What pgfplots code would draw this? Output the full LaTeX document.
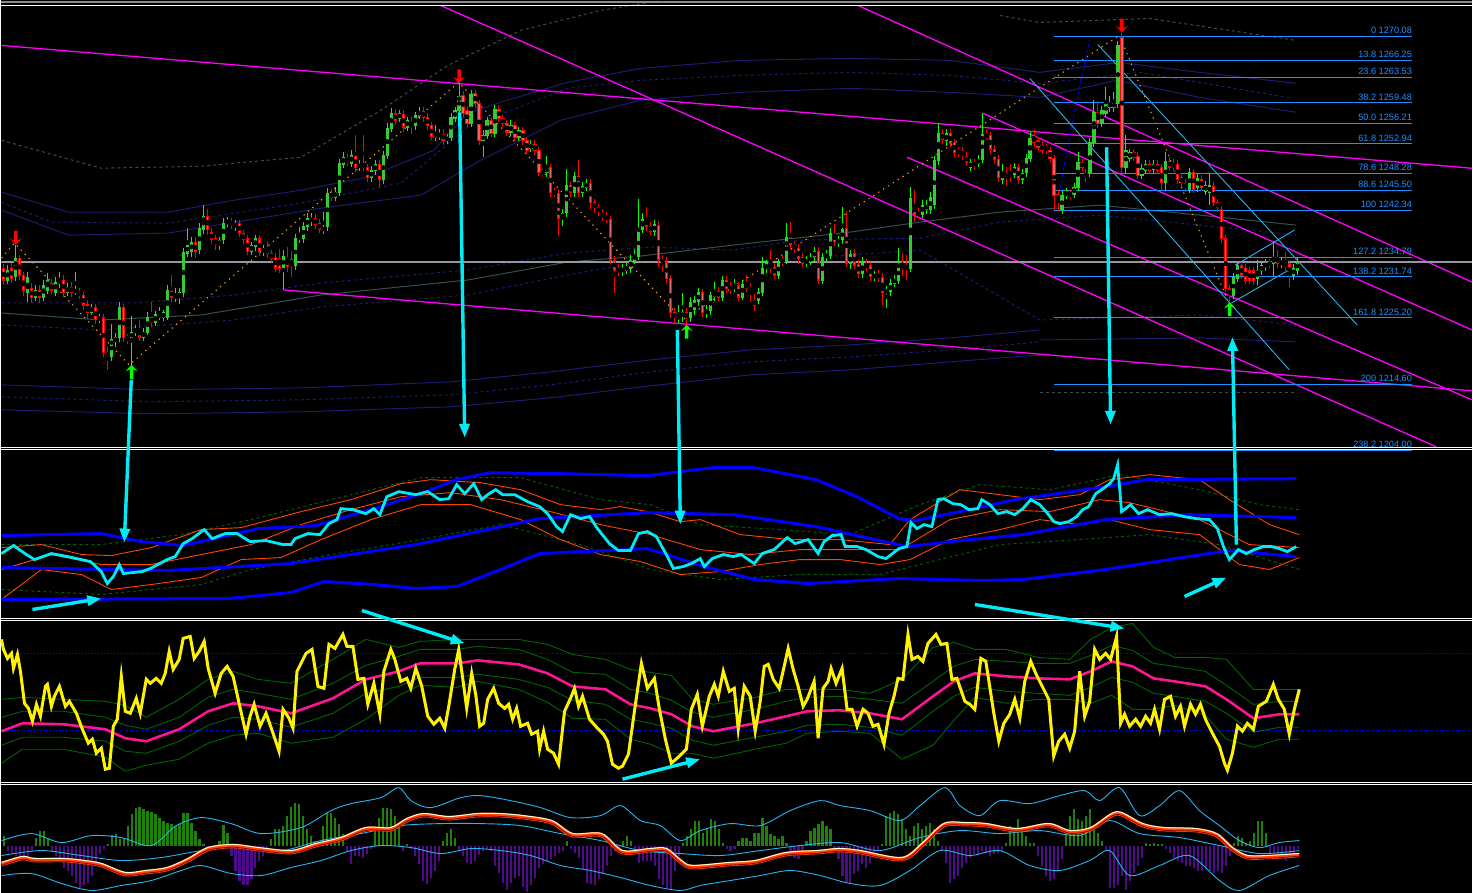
\documentclass[border=0pt]{standalone}
\usepackage{pgfplots}
\usepackage{pgfplotstable}
\pgfplotsset{compat=1.18}
\usepackage{fontspec}
\setmainfont{Liberation Sans}
\usetikzlibrary{arrows.meta}

\definecolor{fib}{RGB}{30,144,255}
\definecolor{bull}{RGB}{50,205,50}
\definecolor{bullw}{RGB}{0,255,0}
\definecolor{bearin}{RGB}{225,105,105}
\definecolor{navyA}{RGB}{28,28,112}
\definecolor{grayg}{RGB}{55,80,75}
\definecolor{zig}{RGB}{240,160,20}
\definecolor{sky}{RGB}{40,180,240}
\definecolor{cyanA}{RGB}{0,235,245}
\definecolor{oran}{RGB}{255,69,0}
\definecolor{dgreen}{RGB}{0,100,0}
\definecolor{pinkL}{RGB}{255,20,147}
\definecolor{hgreen}{RGB}{30,130,10}
\definecolor{hpurp}{RGB}{80,10,140}
\definecolor{pricegray}{RGB}{150,150,165}
\definecolor{mag}{RGB}{255,0,255}

\pgfdeclareplotmark{fdown}{%
 \pgfpathmoveto{\pgfqpoint{0pt}{0pt}}%
 \pgfpathlineto{\pgfqpoint{6pt}{6.5pt}}%
 \pgfpathlineto{\pgfqpoint{1.7pt}{4.5pt}}%
 \pgfpathlineto{\pgfqpoint{1.7pt}{14pt}}%
 \pgfpathlineto{\pgfqpoint{-1.7pt}{14pt}}%
 \pgfpathlineto{\pgfqpoint{-1.7pt}{4.5pt}}%
 \pgfpathlineto{\pgfqpoint{-6pt}{6.5pt}}%
 \pgfpathclose\pgfusepathqfill}
\pgfdeclareplotmark{fup}{%
 \pgfpathmoveto{\pgfqpoint{0pt}{0pt}}%
 \pgfpathlineto{\pgfqpoint{6pt}{-6.5pt}}%
 \pgfpathlineto{\pgfqpoint{1.7pt}{-4.5pt}}%
 \pgfpathlineto{\pgfqpoint{1.7pt}{-14pt}}%
 \pgfpathlineto{\pgfqpoint{-1.7pt}{-14pt}}%
 \pgfpathlineto{\pgfqpoint{-1.7pt}{-4.5pt}}%
 \pgfpathlineto{\pgfqpoint{-6pt}{-6.5pt}}%
 \pgfpathclose\pgfusepathqfill}

\pgfplotstableread{
k o c h l
0 1233.1 1231.2 1233.8 1230.4
1 1231.2 1232.8 1233.6 1230.6
2 1233.1 1231.5 1233.9 1230.8
3 1231.7 1234.7 1236.8 1231.0
4 1234.7 1232.0 1235.2 1231.3
5 1232.0 1229.6 1232.5 1228.6
6 1229.2 1231.7 1232.5 1227.7
7 1229.9 1228.4 1230.8 1227.6
8 1228.4 1229.6 1230.4 1227.8
9 1229.6 1228.4 1230.4 1227.6
10 1228.4 1230.4 1231.2 1227.9
11 1229.6 1231.2 1232.3 1229.0
12 1230.7 1229.6 1231.4 1229.0
13 1229.3 1230.9 1231.7 1228.7
14 1230.7 1231.2 1232.5 1230.0
15 1231.2 1229.2 1232.0 1228.5
16 1229.2 1230.1 1230.8 1228.7
17 1230.1 1229.2 1230.9 1228.5
18 1229.3 1229.6 1232.5 1228.9
19 1229.3 1228.8 1229.9 1228.2
20 1228.8 1227.2 1229.4 1226.5
21 1227.4 1226.1 1228.0 1225.0
22 1226.1 1226.8 1227.4 1225.7
23 1226.8 1224.9 1227.4 1224.2
24 1224.9 1225.3 1225.8 1224.4
25 1225.2 1219.7 1225.8 1218.9
26 1219.7 1219.0 1220.5 1216.9
27 1219.0 1221.7 1224.2 1218.3
28 1221.4 1222.0 1222.8 1220.6
29 1222.0 1226.8 1227.7 1221.4
30 1226.8 1222.0 1227.4 1221.3
31 1222.1 1221.7 1222.6 1221.0
32 1222.0 1222.8 1225.5 1217.7
33 1222.8 1223.4 1224.1 1222.3
34 1223.4 1222.1 1224.9 1221.5
35 1222.1 1222.9 1223.6 1221.5
36 1222.9 1225.3 1226.1 1222.5
37 1225.2 1224.4 1227.7 1223.8
38 1224.4 1225.7 1226.3 1223.9
39 1225.3 1225.7 1227.0 1224.9
40 1225.2 1226.0 1226.5 1224.7
41 1225.3 1229.6 1230.4 1224.9
42 1229.6 1228.4 1232.0 1227.7
43 1228.4 1228.8 1229.9 1227.7
44 1228.5 1229.2 1229.9 1227.4
45 1229.2 1235.7 1236.3 1228.5
46 1235.5 1236.8 1239.5 1234.9
47 1235.7 1237.3 1238.1 1234.9
48 1237.3 1235.7 1238.1 1234.7
49 1236.0 1239.5 1240.3 1235.4
50 1239.2 1241.4 1243.2 1238.6
51 1241.4 1239.2 1242.5 1238.4
52 1238.9 1237.6 1239.5 1236.9
53 1237.9 1236.8 1238.4 1236.0
54 1236.8 1237.6 1238.1 1236.0
55 1237.6 1240.3 1241.1 1237.0
56 1240.3 1240.6 1241.3 1239.7
57 1240.6 1240.0 1241.1 1239.4
58 1239.7 1240.3 1240.8 1239.0
59 1240.3 1238.7 1240.8 1238.1
60 1238.7 1237.6 1239.2 1237.0
61 1237.8 1235.8 1238.4 1235.2
62 1235.8 1236.8 1237.3 1235.2
63 1236.5 1237.9 1238.4 1235.8
64 1237.8 1235.7 1238.4 1235.0
65 1235.7 1236.2 1236.8 1235.1
66 1236.2 1235.4 1237.5 1234.7
67 1235.4 1234.7 1236.0 1234.1
68 1234.9 1233.1 1235.5 1232.5
69 1234.7 1233.1 1236.2 1232.3
70 1233.1 1235.0 1236.0 1229.6
71 1234.7 1233.3 1236.5 1232.5
72 1234.6 1233.5 1235.8 1231.7
73 1233.5 1237.9 1238.6 1232.8
74 1237.8 1238.1 1239.7 1237.2
75 1237.9 1239.7 1240.5 1237.2
76 1239.7 1241.1 1241.9 1239.0
77 1240.5 1241.1 1241.9 1239.8
78 1241.1 1240.0 1241.7 1239.4
79 1240.3 1239.3 1240.9 1238.7
80 1239.2 1239.5 1242.1 1238.6
81 1239.7 1245.1 1245.9 1239.0
82 1245.1 1244.4 1245.7 1243.8
83 1244.4 1245.2 1246.0 1243.8
84 1245.2 1249.8 1250.5 1244.6
85 1249.7 1250.8 1251.6 1249.1
86 1250.6 1250.0 1251.3 1249.4
87 1249.8 1251.1 1251.9 1249.2
88 1251.1 1249.1 1254.3 1248.4
89 1249.2 1249.7 1250.3 1248.6
90 1249.7 1249.2 1254.3 1248.6
91 1249.2 1247.5 1249.8 1246.8
92 1247.5 1248.7 1249.4 1246.8
93 1248.6 1249.7 1250.3 1248.0
94 1249.7 1247.2 1250.3 1246.0
95 1247.2 1251.1 1251.8 1246.5
96 1251.1 1255.4 1256.2 1250.5
97 1255.4 1257.8 1258.6 1254.8
98 1257.8 1256.7 1258.5 1256.0
99 1257.0 1257.8 1258.4 1256.4
100 1257.7 1255.6 1258.3 1254.9
101 1255.6 1256.7 1257.3 1255.0
102 1256.5 1255.9 1257.2 1254.6
103 1255.9 1257.5 1258.1 1255.2
104 1257.5 1258.1 1258.8 1256.9
105 1258.1 1257.2 1258.8 1256.5
106 1257.2 1255.9 1257.8 1255.2
107 1255.9 1254.1 1256.5 1253.5
108 1254.0 1254.5 1255.9 1253.4
109 1254.1 1254.5 1255.3 1253.5
110 1254.5 1253.5 1255.4 1252.8
111 1253.5 1254.0 1254.6 1252.9
112 1254.0 1257.2 1257.8 1253.4
113 1257.0 1258.3 1258.9 1256.4
114 1258.3 1260.5 1262.6 1257.7
115 1260.7 1257.8 1261.3 1257.2
116 1258.3 1256.2 1258.9 1255.6
117 1256.2 1260.8 1261.5 1255.6
118 1261.0 1259.4 1261.6 1258.6
119 1259.4 1253.5 1260.0 1252.8
120 1253.5 1254.3 1255.1 1250.9
121 1254.3 1256.7 1257.3 1253.7
122 1256.7 1254.6 1257.3 1254.0
123 1254.6 1258.5 1259.1 1254.0
124 1258.5 1257.0 1259.1 1256.4
125 1257.0 1256.2 1257.6 1255.6
126 1256.2 1254.8 1256.8 1254.2
127 1254.8 1255.9 1256.7 1254.2
128 1255.9 1254.0 1256.5 1253.4
129 1254.0 1255.1 1255.7 1253.4
130 1255.1 1253.4 1255.7 1252.8
131 1253.5 1251.9 1254.1 1251.3
132 1252.2 1252.9 1253.5 1251.6
133 1252.9 1251.8 1253.5 1251.2
134 1251.9 1248.4 1252.5 1247.8
135 1248.6 1248.3 1249.0 1247.6
136 1248.3 1249.2 1251.0 1247.6
137 1249.2 1245.1 1249.8 1244.4
138 1245.2 1245.1 1245.9 1244.4
139 1245.1 1241.1 1245.7 1238.2
140 1241.1 1241.9 1242.5 1239.8
141 1241.9 1246.3 1249.0 1241.3
142 1246.3 1245.1 1246.9 1244.5
143 1245.1 1247.8 1248.5 1244.5
144 1247.8 1245.1 1250.3 1244.4
145 1245.1 1246.2 1246.8 1244.5
146 1246.0 1246.7 1247.3 1245.4
147 1246.7 1243.6 1247.3 1242.5
148 1243.6 1242.7 1244.2 1242.0
149 1242.8 1242.1 1243.4 1241.4
150 1241.9 1241.3 1242.5 1240.6
151 1241.4 1240.9 1242.0 1240.3
152 1240.9 1234.4 1241.5 1233.8
153 1234.4 1232.8 1235.0 1229.2
154 1233.1 1232.5 1233.8 1231.8
155 1232.5 1233.1 1233.8 1231.9
156 1232.8 1233.3 1234.0 1232.2
157 1233.0 1234.4 1235.2 1232.4
158 1234.4 1235.2 1236.2 1233.8
159 1235.0 1239.3 1244.1 1234.4
160 1239.3 1240.9 1241.9 1238.7
161 1240.9 1239.7 1242.9 1239.0
162 1239.8 1239.0 1240.4 1238.4
163 1238.9 1240.1 1240.8 1238.2
164 1240.0 1234.4 1240.6 1233.3
165 1234.4 1234.1 1235.2 1232.5
166 1234.1 1231.5 1234.9 1230.7
167 1231.5 1226.0 1232.1 1225.2
168 1226.0 1225.2 1226.8 1224.2
169 1225.0 1225.5 1227.3 1224.3
170 1225.5 1226.0 1229.2 1224.6
171 1226.0 1225.2 1226.8 1224.1
172 1225.2 1227.7 1228.5 1224.6
173 1226.5 1228.0 1228.7 1225.7
174 1227.7 1229.3 1230.0 1227.0
175 1229.2 1226.0 1229.8 1225.3
176 1226.0 1226.3 1227.2 1225.2
177 1226.3 1228.7 1229.4 1225.7
178 1228.5 1229.3 1230.9 1227.9
179 1229.5 1228.5 1230.1 1227.8
180 1228.5 1231.2 1231.9 1227.9
181 1231.2 1229.9 1231.9 1229.2
182 1230.1 1229.8 1230.9 1229.0
183 1229.9 1230.3 1231.4 1229.3
184 1230.3 1228.5 1230.9 1227.9
185 1228.5 1230.6 1231.2 1228.0
186 1230.6 1229.9 1232.0 1229.3
187 1229.9 1229.8 1230.7 1227.7
188 1228.0 1227.2 1229.0 1226.3
189 1228.0 1229.3 1230.0 1227.4
190 1229.3 1233.1 1234.9 1228.7
191 1233.0 1233.8 1234.4 1232.3
192 1233.8 1233.0 1236.0 1232.3
193 1233.3 1232.0 1234.0 1231.4
194 1232.0 1233.9 1234.6 1231.4
195 1234.4 1234.1 1235.0 1233.5
196 1234.4 1238.1 1240.3 1233.8
197 1238.1 1236.8 1240.5 1236.2
198 1236.9 1236.2 1237.5 1235.5
199 1236.3 1234.7 1236.9 1233.8
200 1234.9 1233.9 1235.5 1233.3
201 1233.9 1234.4 1235.0 1233.3
202 1234.2 1234.9 1235.5 1233.6
203 1234.9 1235.8 1236.5 1234.3
204 1235.8 1231.2 1236.5 1230.6
205 1231.2 1234.9 1235.5 1230.6
206 1234.9 1235.2 1236.0 1234.3
207 1235.2 1238.7 1239.5 1234.6
208 1238.7 1237.3 1240.1 1236.6
209 1237.1 1237.6 1238.3 1236.5
210 1237.6 1239.3 1242.9 1237.0
211 1239.5 1233.9 1242.2 1233.3
212 1233.8 1235.4 1236.0 1233.0
213 1235.5 1233.6 1236.2 1233.0
214 1233.8 1232.2 1234.4 1231.5
215 1232.2 1233.9 1234.9 1231.5
216 1233.9 1233.3 1234.6 1232.7
217 1233.5 1231.7 1234.1 1231.1
218 1231.7 1232.0 1232.6 1231.1
219 1232.2 1231.5 1232.8 1230.9
220 1231.7 1229.2 1232.3 1227.3
221 1229.2 1229.6 1230.3 1226.8
222 1229.3 1230.7 1231.4 1228.7
223 1230.7 1231.4 1232.0 1230.1
224 1231.2 1233.5 1236.4 1230.6
225 1233.5 1233.3 1235.5 1231.9
226 1233.5 1233.1 1235.2 1231.2
227 1233.1 1244.3 1246.0 1232.5
228 1243.2 1241.6 1245.6 1240.5
229 1241.9 1241.6 1242.7 1240.9
230 1241.7 1243.2 1244.0 1241.1
231 1242.4 1243.2 1244.0 1241.7
232 1242.4 1244.4 1245.2 1241.7
233 1243.2 1250.3 1251.0 1242.5
234 1250.3 1254.6 1256.2 1249.6
235 1254.6 1253.7 1255.4 1252.9
236 1253.5 1254.6 1255.3 1252.6
237 1254.6 1253.0 1255.3 1252.4
238 1253.2 1251.6 1253.8 1250.8
239 1251.9 1251.6 1252.5 1250.8
240 1251.9 1251.1 1252.5 1250.3
241 1251.0 1250.0 1251.6 1249.4
242 1249.2 1250.0 1250.6 1248.6
243 1250.0 1249.4 1250.6 1248.8
244 1249.8 1250.5 1251.1 1249.2
245 1250.5 1254.5 1257.8 1249.9
246 1254.5 1254.1 1255.1 1253.5
247 1254.3 1252.1 1254.9 1251.4
248 1252.1 1250.5 1252.7 1249.8
249 1250.5 1247.5 1251.1 1246.8
250 1247.3 1248.3 1249.8 1246.6
251 1248.3 1247.5 1249.2 1246.2
252 1248.3 1247.5 1249.7 1246.8
253 1248.1 1249.2 1249.9 1247.5
254 1249.2 1247.3 1249.8 1246.6
255 1247.3 1248.3 1249.0 1246.6
256 1248.3 1250.6 1251.3 1247.6
257 1250.6 1253.8 1254.8 1250.0
258 1254.0 1253.2 1255.1 1252.5
259 1253.5 1252.4 1254.1 1251.8
260 1252.7 1251.9 1253.4 1251.3
261 1252.4 1251.9 1253.0 1251.3
262 1251.9 1250.6 1252.5 1250.0
263 1250.6 1244.7 1251.2 1242.4
264 1244.9 1244.0 1245.6 1242.2
265 1242.4 1244.7 1245.4 1241.7
266 1244.7 1245.2 1245.9 1244.1
267 1245.1 1244.7 1245.7 1244.1
268 1244.9 1246.0 1246.7 1244.3
269 1246.0 1250.0 1251.6 1245.4
270 1250.0 1249.2 1250.6 1248.6
271 1248.3 1247.5 1248.9 1246.8
272 1248.3 1253.2 1253.9 1247.6
273 1253.2 1258.0 1259.9 1252.5
274 1258.0 1256.2 1259.7 1255.5
275 1256.2 1258.3 1259.0 1255.6
276 1257.8 1259.4 1262.0 1257.2
277 1258.8 1259.4 1260.5 1258.1
278 1258.8 1259.4 1261.3 1258.1
279 1259.4 1268.6 1269.4 1258.6
280 1269.9 1249.1 1270.7 1248.1
281 1249.1 1251.9 1254.3 1248.3
282 1250.6 1251.6 1252.2 1250.0
283 1251.6 1250.8 1252.2 1250.2
284 1251.0 1247.9 1251.6 1247.3
285 1247.9 1249.1 1249.7 1247.3
286 1248.7 1249.7 1250.3 1248.1
287 1249.7 1248.7 1250.3 1248.1
288 1248.9 1249.7 1250.3 1248.3
289 1249.7 1248.7 1250.3 1248.1
290 1249.2 1246.7 1249.8 1245.6
291 1246.7 1250.2 1251.6 1245.4
292 1250.2 1249.2 1250.8 1248.6
293 1249.8 1249.2 1250.5 1248.6
294 1249.7 1247.3 1250.3 1246.6
295 1247.6 1246.7 1248.3 1246.0
296 1246.7 1245.9 1247.3 1245.2
297 1245.7 1248.4 1249.1 1245.1
298 1248.4 1245.7 1249.0 1245.1
299 1245.9 1247.5 1248.1 1245.2
300 1247.3 1246.0 1248.0 1245.4
301 1245.4 1246.3 1247.0 1244.8
302 1245.2 1246.3 1248.1 1243.2
303 1246.2 1243.6 1246.8 1243.0
304 1243.6 1242.7 1244.2 1242.1
305 1242.5 1237.8 1243.1 1237.1
306 1237.8 1229.9 1238.4 1229.3
307 1229.9 1228.8 1230.5 1227.7
308 1228.8 1231.7 1232.3 1228.2
309 1231.5 1233.5 1234.1 1230.9
310 1233.5 1232.0 1234.1 1231.4
311 1233.1 1231.2 1233.8 1230.6
312 1232.7 1231.2 1233.3 1230.6
313 1232.7 1231.1 1233.3 1230.5
314 1231.4 1232.8 1234.4 1230.5
315 1232.7 1233.5 1234.1 1232.0
316 1233.3 1233.9 1234.6 1232.7
317 1233.9 1233.8 1234.6 1233.1
318 1233.8 1234.9 1237.3 1231.9
319 1234.9 1233.8 1236.0 1233.1
320 1233.8 1234.1 1234.9 1233.1
321 1234.1 1233.3 1235.7 1232.5
322 1233.8 1232.0 1234.4 1230.1
323 1231.9 1233.1 1233.8 1231.3
324 1232.8 1234.1 1234.9 1232.1
}\candles

\pgfplotstableread{
k v
0 10
1 -5
2 -7
3 -10
4 -12
5 -13
6 -10
7 -5
8 8
9 15
10 15
11 8
12 -5
13 -10
14 -13
15 -22
16 -25
17 -30
18 -37
19 -43
20 -40
21 -37
22 -30
23 -20
24 -8
25 -3
26 2
27 11
28 12
29 7
30 8
31 20
32 32
33 38
34 39
35 37
36 35
37 34
38 32
39 28
40 25
41 23
42 22
43 20
44 22
45 33
46 33
47 23
48 15
49 7
50 2
51 -3
52 -4
53 -3
54 5
55 21
56 13
57 -10
58 -25
59 -35
60 -40
61 -40
62 -33
63 -22
64 -15
65 -10
66 -7
67 7
68 17
69 17
70 20
71 30
72 39
73 43
74 42
75 30
76 17
77 10
78 5
79 3
80 20
81 33
82 33
83 28
84 22
85 12
86 -5
87 -18
88 -10
89 -10
90 -12
91 -8
92 -3
93 15
94 28
95 38
96 38
97 37
98 30
99 20
100 -5
101 2
102 -3
103 -10
104 -18
105 -35
106 -38
107 -32
108 -25
109 -15
110 5
111 13
112 17
113 8
114 -5
115 -10
116 -17
117 -18
118 -15
119 -9
120 -5
121 -3
122 -5
123 -20
124 -27
125 -37
126 -45
127 -37
128 -32
129 -30
130 -42
131 -47
132 -40
133 -32
134 -22
135 -18
136 -15
137 -13
138 -10
139 -7
140 -5
141 5
142 -3
143 -7
144 -12
145 -23
146 -37
147 -38
148 -40
149 -33
150 -28
151 -20
152 -10
153 -5
154 -3
155 5
156 10
157 5
158 -5
159 -17
160 -15
161 -15
162 -15
163 -20
164 -33
165 -40
166 -43
167 -45
168 -25
169 -10
170 3
171 10
172 17
173 25
174 25
175 13
176 17
177 27
178 25
179 17
180 3
181 -3
182 -5
183 -3
184 5
185 8
186 8
187 5
188 13
189 13
190 28
191 20
192 12
193 10
194 7
195 10
196 3
197 -10
198 -12
199 -13
200 -8
201 5
202 15
203 18
204 22
205 25
206 20
207 17
208 -3
209 -13
210 -30
211 -37
212 -38
213 -28
214 -25
215 -18
216 -22
217 -17
218 -10
219 -5
220 2
221 30
222 33
223 35
224 32
225 27
226 17
227 10
228 20
229 23
230 17
231 20
232 23
233 17
234 5
235 -5
236 -17
237 -37
238 -33
239 -30
240 -22
241 -17
242 -12
243 -8
244 -8
245 -5
246 -7
247 -10
248 -8
249 -7
250 -6
251 3
252 20
253 17
254 27
255 17
256 10
257 3
258 3
259 -10
260 -20
261 -30
262 -35
263 -33
264 -25
265 -13
266 13
267 30
268 37
269 27
270 25
271 30
272 37
273 20
274 13
275 5
276 -5
277 -43
278 -43
279 -40
280 -30
281 -45
282 -35
283 -27
284 -20
285 -12
286 3
287 2
288 3
289 2
290 2
291 -3
292 -7
293 -12
294 -15
295 -17
296 -20
297 -20
298 -22
299 -25
300 -25
301 -23
302 -25
303 -27
304 -25
305 -27
306 -20
307 -10
308 3
309 10
310 8
311 3
312 5
313 13
314 25
315 25
316 13
317 -7
318 -7
319 -8
320 -12
321 -15
322 -10
323 -7
324 -3
}\hist

\begin{document}
\begin{tikzpicture}[x=1pt,y=1pt]
\fill[black] (0,0) rectangle (1473,894);

% ================= background overlay (pixel coordinates) =================
\begin{axis}[at={(0,0)}, anchor=south west, scale only axis, width=1473pt, height=894pt,
  xmin=0, xmax=1473, ymin=0, ymax=894, y dir=reverse, hide axis, clip=false]
% navy envelope lines
\addplot[navyA, line width=1pt] coordinates {(0,192) (67,212) (167,212) (233,200) (300,190) (367,177) (433,150) (467,113) (500,102) (567,82) (640,68) (740,60) (850,58) (950,60) (1040,72) (1120,62) (1200,72) (1297,83)};
\addplot[navyA, line width=1pt, dashed] coordinates {(0,202) (50,222) (167,223) (300,203) (400,183) (467,127) (567,88) (640,80) (740,75) (850,72) (950,75) (1040,83) (1140,72) (1200,82) (1293,98)};
\addplot[navyA, line width=1pt] coordinates {(0,210) (67,235) (167,233) (320,208) (420,195) (480,160) (560,120) (640,100) (740,92) (850,88) (950,92) (1040,97) (1117,80) (1200,97) (1297,112)};
\addplot[navyA, line width=1pt, dashed] coordinates {(0,303) (133,303) (233,295) (320,283) (467,270) (567,253) (650,247) (733,250) (800,240) (920,238) (1000,222) (1100,215) (1200,225) (1297,235)};
\addplot[grayg, line width=1pt] coordinates {(0,313) (100,320) (200,315) (320,295) (467,280) (567,262) (640,256) (733,245) (850,232) (920,222) (1000,212) (1100,205) (1200,215) (1297,225)};
\addplot[navyA, line width=1pt, dashed] coordinates {(0,325) (100,330) (233,320) (320,307) (467,295) (567,275) (640,262) (740,262) (850,255) (920,250) (1040,320) (1200,315) (1297,325)};
\addplot[navyA, line width=1pt] coordinates {(1040,340) (1200,338) (1297,342)};
\addplot[navyA, line width=1pt] coordinates {(0,385) (150,390) (300,388) (450,382) (550,372) (650,360) (750,350) (850,345) (950,338) (1040,330)};
\addplot[navyA, line width=1pt, dashed] coordinates {(0,397) (150,402) (300,400) (450,395) (550,385) (650,372) (750,362) (850,357) (950,350) (1040,342)};
\addplot[navyA, line width=1pt] coordinates {(0,410) (150,414) (300,412) (450,407) (550,398) (650,386) (750,375) (850,370) (950,362) (1040,355)};
\addplot[grayg, line width=1pt, dashed] coordinates {(0,140) (100,168) (200,166) (300,157) (380,110) (447,65) (520,30) (600,10) (660,0)};
\addplot[grayg, line width=1pt, dashed] coordinates {(1000,15) (1040,22) (1150,18) (1297,40)};
\addplot[grayg, line width=1pt, dashed] coordinates {(1040,393) (1297,393)};
% magenta trend lines
\addplot[mag, line width=1.3pt] coordinates {(0,45) (1473,168)};
\addplot[mag, line width=1.3pt] coordinates {(283,290) (1473,391)};
\addplot[mag, line width=1.3pt] coordinates {(440,5) (1437,447)};
\addplot[mag, line width=1.3pt] coordinates {(858,5) (1473,282)};
\addplot[mag, line width=1.3pt] coordinates {(983,113) (1473,330)};
\addplot[mag, line width=1.3pt] coordinates {(907,157) (1473,400)};
% zigzag
\addplot[zig, line width=1.1pt, dash pattern=on 1.3pt off 4.5pt] coordinates {(0,258) (13,243) (128,365) (458,82) (682,320) (1120,35) (1228,300)};
% blue dashed steep line
\addplot[blue, line width=1pt, dashed] coordinates {(1058,200) (1075,110) (1090,39)};
% light blue channel lines
\addplot[sky, line width=0.9pt] coordinates {(1030,78) (1290,370)};
\addplot[sky, line width=0.9pt] coordinates {(1098,44) (1358,325)};
\addplot[sky, line width=0.9pt] coordinates {(1236,265) (1295,230)};
\addplot[sky, line width=0.9pt] coordinates {(1232,303) (1293,268)};

% ---------------- panel 2 ----------------
\addplot[dgreen, line width=0.9pt, dashed] coordinates {(0,545) (100,545) (180,535) (250,520) (330,500) (420,478) (520,478) (600,500) (650,505) (700,525) (780,530) (850,535) (920,505) (980,485) (1050,490) (1120,475) (1200,490) (1260,505) (1300,510)};
\addplot[dgreen, line width=0.9pt, dashed] coordinates {(0,590) (100,595) (200,585) (250,570) (330,555) (420,540) (500,525) (580,545) (650,570) (720,580) (800,575) (880,575) (940,560) (1000,545) (1080,540) (1150,535) (1220,545) (1300,570)};
\addplot[oran, line width=0.9pt] coordinates {(0,548) (40,545) (80,555) (110,556) (150,548) (200,530) (240,528) (300,512) (350,500) (400,484) (430,480) (480,483) (520,490) (560,505) (600,510) (620,507) (647,512) (680,522) (700,520) (740,535) (790,540) (840,540) (890,545) (910,520) (960,490) (1000,495) (1040,500) (1080,495) (1110,480) (1150,475) (1200,480) (1230,500) (1270,525) (1300,535)};
\addplot[oran, line width=0.9pt] coordinates {(0,600) (40,570) (80,575) (110,590) (150,585) (200,578) (240,560) (280,558) (320,540) (370,520) (420,505) (470,505) (520,520) (560,540) (600,555) (640,562) (680,575) (720,572) (760,565) (800,560) (840,560) (880,565) (910,560) (950,540) (1000,530) (1040,520) (1080,525) (1110,520) (1150,530) (1200,535) (1240,565) (1270,570) (1300,558)};
\addplot[oran, line width=0.9pt] coordinates {(0,570) (50,555) (100,565) (150,565) (200,555) (250,545) (300,525) (350,510) (400,497) (450,493) (500,500) (550,512) (600,525) (650,535) (700,550) (750,555) (800,550) (850,550) (900,550) (950,520) (1000,510) (1050,512) (1100,500) (1130,503) (1200,520) (1250,545) (1300,548)};
\addplot[blue, line width=3pt] coordinates {(0,536) (100,534) (140,542) (182,546) (257,529) (315,526) (380,507) (420,494) (456,480) (489,473) (560,474) (647,476) (712,468) (754,468) (816,480) (857,497) (899,519) (915,521) (960,512) (1015,500) (1106,487) (1147,480) (1297,479)};
\addplot[blue, line width=3pt] coordinates {(0,568) (166,571) (290,564) (415,545) (539,519) (647,513) (733,515) (816,527) (907,547) (960,541) (1023,535) (1106,520) (1189,515) (1297,518)};
\addplot[blue, line width=3pt] coordinates {(0,600) (228,599) (290,593) (323,582) (373,585) (415,589) (456,587) (500,570) (539,554) (647,549) (704,567) (754,580) (808,584) (899,579) (982,581) (1023,580) (1106,570) (1189,557) (1230,551) (1297,557)};
\addplot[cyanA, line width=2.8pt] coordinates {(0,554) (12,546) (25,555) (33,560) (50,554) (66,557) (89,562) (100,572) (106,584) (112,577) (118,565) (122,574) (141,572) (149,569) (166,560) (174,557) (182,544) (191,539) (203,530) (211,539) (224,534) (236,534) (249,542) (265,541) (282,545) (290,545) (294,539) (307,534) (319,535) (328,524) (336,520) (340,509) (352,510) (365,514) (373,509) (379,515) (386,497) (398,492) (415,495) (427,492) (439,500) (448,499) (456,485) (464,494) (473,484) (481,500) (487,495) (495,490) (502,495) (514,495) (527,502) (539,507) (547,514) (556,527) (562,532) (570,515) (580,519) (589,517) (597,529) (609,544) (618,551) (630,551) (638,534) (647,532) (656,537) (667,557) (673,569) (683,567) (691,564) (700,559) (704,567) (712,559) (723,555) (733,557) (741,555) (754,564) (762,554) (774,550) (787,538) (795,544) (808,540) (818,554) (824,542) (832,536) (841,535) (845,547) (857,547) (866,550) (878,557) (886,559) (899,549) (907,547) (911,523) (917,529) (924,525) (932,527) (938,500) (944,499) (953,504) (961,505) (969,510) (978,509) (982,500) (990,505) (998,514) (1007,512) (1015,515) (1023,509) (1031,500) (1040,505) (1048,514) (1054,522) (1060,524) (1069,522) (1077,517) (1083,510) (1089,507) (1096,494) (1102,490) (1110,484) (1114,479) (1118,465) (1122,512) (1131,505) (1139,514) (1148,510) (1160,515) (1172,514) (1185,517) (1197,519) (1210,520) (1218,529) (1224,547) (1230,560) (1239,550) (1247,554) (1255,550) (1264,547) (1272,547) (1280,549) (1288,552) (1297,547)};

% ---------------- panel 3 ----------------
\addplot[blue, line width=1.2pt, dash pattern=on 1.6pt off 1.6pt] coordinates {(0,654) (1473,654)};
\addplot[blue, line width=1.2pt, dash pattern=on 1.6pt off 1.6pt] coordinates {(0,731) (1473,731)};
\addplot[dgreen, line width=0.9pt] coordinates {(0,700) (21,698) (62,700) (104,702) (124,706) (145,718) (178,700) (207,680) (232,672) (257,680) (290,684) (332,660) (365,640) (398,648) (419,642) (456,640) (477,640) (518,640) (547,645) (572,655) (605,660) (630,670) (650,673) (671,676) (692,700) (713,705) (755,698) (786,690) (807,690) (839,690) (870,694) (902,680) (933,648) (954,643) (975,650) (1007,650) (1038,658) (1070,660) (1091,640) (1112,628) (1133,624) (1154,648) (1175,658) (1206,658) (1227,660) (1254,690) (1280,690) (1300,690)};
\addplot[dgreen, line width=0.9pt] coordinates {(0,764) (21,750) (62,750) (104,758) (124,772) (145,766) (178,760) (207,744) (232,736) (257,734) (290,744) (332,738) (365,720) (398,696) (419,686) (456,688) (477,682) (518,690) (547,703) (572,719) (605,720) (630,740) (650,745) (671,754) (692,754) (713,759) (755,750) (786,744) (807,734) (839,732) (870,734) (902,760) (933,746) (954,721) (975,698) (1007,704) (1038,700) (1070,700) (1091,704) (1112,696) (1133,710) (1154,710) (1175,706) (1206,716) (1227,740) (1254,748) (1280,740) (1300,740)};
\addplot[dgreen, line width=0.9pt] coordinates {(0,718) (21,712) (62,712) (104,718) (124,726) (145,730) (178,718) (207,698) (232,690) (257,694) (290,700) (332,684) (365,666) (398,657) (419,650) (456,650) (477,647) (518,650) (547,660) (572,673) (605,675) (630,690) (650,694) (671,701) (692,713) (713,718) (755,710) (786,702) (807,698) (839,697) (870,700) (902,704) (933,682) (954,667) (975,660) (1007,662) (1038,664) (1070,664) (1091,656) (1112,646) (1133,651) (1154,664) (1175,667) (1206,672) (1227,686) (1254,705) (1280,702) (1300,702)};
\addplot[dgreen, line width=0.9pt] coordinates {(0,746) (21,738) (62,738) (104,742) (124,752) (145,754) (178,742) (207,726) (232,718) (257,720) (290,728) (332,714) (365,694) (398,687) (419,678) (456,678) (477,675) (518,680) (547,688) (572,701) (605,705) (630,720) (650,724) (671,729) (692,741) (713,746) (755,738) (786,732) (807,726) (839,725) (870,728) (902,736) (933,712) (954,697) (975,688) (1007,692) (1038,694) (1070,696) (1091,688) (1112,678) (1133,683) (1154,694) (1175,697) (1206,702) (1227,714) (1254,733) (1280,728) (1300,728)};
\addplot[pinkL, line width=2.6pt] coordinates {(0,732) (21,724) (62,725) (104,730) (124,739) (145,742) (178,730) (207,712) (232,704) (257,707) (290,714) (332,699) (365,680) (398,672) (419,664) (456,664) (477,661) (518,665) (547,674) (572,687) (605,690) (630,705) (650,709) (671,715) (692,727) (713,732) (755,724) (786,717) (807,712) (839,711) (870,714) (902,720) (933,697) (954,682) (975,674) (1007,677) (1038,679) (1070,680) (1091,672) (1112,662) (1133,667) (1154,679) (1175,682) (1206,687) (1227,700) (1254,719) (1280,715) (1300,715)};
\addplot[yellow, line width=3pt] coordinates {(0,640) (2,650) (6,659) (10,654) (12,669) (16,655) (19,672) (23,704) (27,709) (31,722) (35,705) (39,717) (44,687) (46,685) (50,707) (53,697) (58,687) (64,707) (68,702) (75,714) (81,730) (87,744) (91,740) (95,754) (100,749) (104,770) (108,769) (112,727) (116,720) (120,677) (124,712) (129,714) (135,699) (139,714) (145,680) (149,684) (155,679) (160,684) (164,674) (168,652) (172,670) (178,660) (182,639) (189,637) (193,659) (198,652) (203,642) (207,669) (214,694) (220,674) (226,667) (232,677) (238,704) (245,735) (249,717) (253,705) (259,727) (265,714) (272,734) (278,752) (282,710) (288,719) (292,729) (296,672) (305,654) (311,650) (317,687) (323,689) (328,645) (334,649) (342,635) (346,647) (352,647) (357,680) (363,679) (367,705) (373,684) (379,715) (383,672) (390,650) (394,660) (400,682) (406,679) (410,689) (415,669) (421,687) (427,717) (433,725) (439,719) (444,729) (448,707) (454,670) (458,650) (462,679) (466,709) (471,674) (475,695) (479,727) (483,724) (487,700) (493,689) (498,704) (504,709) (508,705) (512,720) (516,709) (520,727) (527,724) (531,735) (537,732) (539,750) (543,732) (547,750) (553,754) (558,765) (564,712) (570,699) (574,689) (578,707) (582,697) (589,720) (597,729) (603,735) (607,742) (612,765) (618,769) (622,767) (628,755) (634,712) (641,664) (647,689) (654,679) (659,710) (665,740) (671,764) (679,757) (686,750) (691,710) (697,695) (702,727) (709,697) (714,685) (718,697) (723,672) (729,692) (734,689) (738,730) (744,687) (750,697) (755,732) (760,702) (764,667) (768,665) (773,680) (779,689) (784,667) (788,649) (793,670) (798,687) (803,707) (807,700) (814,682) (818,739) (823,689) (828,682) (831,669) (836,684) (842,669) (847,710) (852,710) (857,727) (863,710) (868,714) (873,727) (878,725) (884,745) (889,714) (894,697) (898,679) (903,680) (908,635) (912,660) (918,657) (923,662) (928,644) (936,635) (941,645) (947,644) (952,680) (957,679) (965,702) (970,705) (975,710) (981,659) (986,662) (994,714) (999,742) (1004,724) (1010,715) (1015,700) (1020,719) (1025,682) (1031,662) (1036,674) (1041,684) (1049,700) (1054,757) (1059,742) (1065,735) (1070,749) (1075,732) (1080,672) (1085,717) (1090,702) (1095,650) (1100,660) (1106,654) (1111,660) (1117,637) (1121,724) (1125,715) (1130,727) (1136,720) (1141,727) (1146,717) (1151,724) (1155,710) (1160,730) (1165,700) (1171,697) (1176,717) (1181,707) (1185,727) (1191,705) (1196,715) (1201,705) (1206,720) (1213,734) (1220,747) (1225,764) (1228,771) (1233,754) (1238,727) (1243,732) (1248,724) (1254,730) (1259,707) (1267,702) (1274,685) (1279,700) (1285,710) (1290,735) (1295,710) (1300,690)};
\end{axis}

% ================= main price panel (full-height axis, price units) =================
\begin{axis}[at={(0,0)}, anchor=south west, scale only axis, width=1473pt, height=894pt,
  xmin=0, xmax=1473, ymin=1133.45, ymax=1275.81, hide axis, clip=true]
\addplot[pricegray, line width=1.2pt] coordinates {(0,1234.1) (1473,1234.1)};
\foreach \lv/\lab in {1270.08/{0 1270.08}, 1266.25/{13.8 1266.25}, 1263.53/{23.6 1263.53}, 1259.48/{38.2 1259.48}, 1256.21/{50.0 1256.21}, 1252.94/{61.8 1252.94}, 1248.28/{78.6 1248.28}, 1245.50/{88.6 1245.50}, 1242.34/{100 1242.34}, 1234.79/{127.2 1234.79}, 1231.74/{138.2 1231.74}, 1225.20/{161.8 1225.20}, 1214.60/{200 1214.60}, 1204.00/{238.2 1204.00}}{
  \edef\temp{\noexpand\addplot[fib, line width=1pt] coordinates {(1054,\lv) (1413,\lv)};
  \noexpand\node[anchor=base east, inner sep=0pt, text=fib, font=\noexpand\fontsize{9.2}{10}\noexpand\selectfont] at (axis cs:1413,\lv) [yshift=2.7pt] {\lab};}
  \temp
}
% wicks
\addplot[only marks, mark=none, forget plot, restrict expr to domain={\thisrow{c}-\thisrow{o}}{0:1000},
  error bars/.cd, y dir=both, y explicit, error mark=none, error bar style={line width=1pt, color=bullw}]
  table[x expr=2.33+4*\thisrow{k}, y expr=(\thisrow{h}+\thisrow{l})/2, y error expr=(\thisrow{h}-\thisrow{l})/2]{\candles};
\addplot[only marks, mark=none, forget plot, restrict expr to domain={\thisrow{c}-\thisrow{o}}{-1000:-0.001},
  error bars/.cd, y dir=both, y explicit, error mark=none, error bar style={line width=1pt, color=red}]
  table[x expr=2.33+4*\thisrow{k}, y expr=(\thisrow{h}+\thisrow{l})/2, y error expr=(\thisrow{h}-\thisrow{l})/2]{\candles};
% bodies
\addplot[only marks, mark=none, forget plot, restrict expr to domain={\thisrow{c}-\thisrow{o}}{0:1000},
  error bars/.cd, y dir=both, y explicit, error mark=none, error bar style={line width=3.2pt, color=bull}]
  table[x expr=2.33+4*\thisrow{k}, y expr=(\thisrow{o}+\thisrow{c})/2, y error expr=(\thisrow{c}-\thisrow{o})/2+0.06]{\candles};
\addplot[only marks, mark=none, forget plot, restrict expr to domain={\thisrow{c}-\thisrow{o}}{-1000:-0.001},
  error bars/.cd, y dir=both, y explicit, error mark=none, error bar style={line width=3.2pt, color=red}]
  table[x expr=2.33+4*\thisrow{k}, y expr=(\thisrow{o}+\thisrow{c})/2, y error expr=(\thisrow{o}-\thisrow{c})/2+0.06]{\candles};
\addplot[only marks, mark=none, forget plot, restrict expr to domain={\thisrow{c}-\thisrow{o}}{-1000:-0.3},
  error bars/.cd, y dir=both, y explicit, error mark=none, error bar style={line width=1.2pt, color=bearin}]
  table[x expr=2.33+4*\thisrow{k}, y expr=(\thisrow{o}+\thisrow{c})/2, y error expr=(\thisrow{o}-\thisrow{c})/2-0.12]{\candles};
% fractals
\addplot[only marks, mark=fdown, mark options={fill=red, draw=none}] coordinates {(14.33,1236.8) (458.33,1262.6) (1122.33,1270.7)};
\addplot[only marks, mark=fup, mark options={fill=bullw, draw=none}] coordinates {(130.33,1217.7) (686.33,1224.1) (1230.33,1227.7)};
\end{axis}

% ================= panel 4 =================
\begin{axis}[at={(0,0)}, anchor=south west, scale only axis, width=1473pt, height=108pt,
  xmin=0, xmax=1473, ymin=-47.5, ymax=60.5, hide axis, clip=true]
\addplot[ycomb, hgreen, line width=2.2pt, mark=none, restrict expr to domain={\thisrow{v}}{0:100}]
  table[x expr=2.33+4*\thisrow{k}, y=v]{\hist};
\addplot[ycomb, hpurp, line width=2.2pt, mark=none, restrict expr to domain={\thisrow{v}}{-100:-0.01}]
  table[x expr=2.33+4*\thisrow{k}, y=v]{\hist};
\addplot[sky, line width=0.9pt, smooth] coordinates {(0,5) (30,12) (60,3) (90,10) (120,8) (150,0) (175,20) (200,28) (230,22) (260,12) (300,18) (330,35) (350,42) (380,48) (398,58) (410,45) (430,38) (460,48) (480,50) (510,45) (540,38) (570,28) (600,30) (620,40) (640,25) (660,20) (680,5) (700,15) (730,22) (760,20) (790,35) (820,45) (840,40) (870,35) (900,25) (920,40) (945,58) (960,40) (980,30) (1000,45) (1030,42) (1060,50) (1085,55) (1100,45) (1120,58) (1140,30) (1160,40) (1180,55) (1200,35) (1220,20) (1240,5) (1260,-2) (1280,3) (1300,5)};
\addplot[sky, line width=0.9pt, smooth] coordinates {(0,-30) (30,-28) (60,-38) (90,-45) (120,-40) (150,-35) (180,-25) (200,-20) (230,-28) (260,-30) (290,-22) (320,-15) (350,-5) (380,0) (410,-2) (440,-8) (470,-3) (500,-5) (530,-10) (560,-20) (590,-25) (620,-32) (650,-40) (680,-45) (700,-40) (730,-35) (760,-30) (790,-25) (820,-30) (850,-38) (880,-40) (910,-25) (940,-5) (970,-10) (1000,-5) (1030,-20) (1060,-25) (1090,-15) (1110,-5) (1130,-30) (1160,-20) (1190,-10) (1220,-35) (1240,-45) (1270,-30) (1300,-20)};
\addplot[sky, line width=0.9pt, smooth] coordinates {(0,-10) (40,-5) (80,-10) (120,-15) (160,-12) (200,-5) (240,0) (280,-5) (320,5) (360,12) (400,20) (440,22) (480,22) (520,20) (560,12) (600,5) (640,-5) (680,-8) (720,-10) (760,-5) (800,0) (840,3) (880,-5) (920,8) (960,15) (1000,12) (1040,15) (1080,10) (1110,25) (1140,12) (1180,8) (1220,0) (1260,-8) (1300,-5)};
\addplot[oran, line width=4.5pt, smooth] coordinates {(0,-18.5) (21,-12.5) (33,-14.5) (62,-14.5) (83,-16.5) (100,-19.5) (124,-28.5) (145,-26.5) (166,-23.5) (187,-14.5) (207,-3.5) (232,-0.5) (257,-3.5) (290,-6.5) (315,0.5) (340,6.5) (365,16.5) (390,16.5) (406,25.5) (423,30.5) (448,27.5) (477,30.5) (498,30.5) (522,28.5) (551,23.5) (572,10.5) (601,10.5) (622,-6.5) (650,-4.5) (666,-4.5) (681,-16.5) (692,-21.5) (729,-18.5) (755,-16.5) (786,-8.5) (818,-6.5) (839,-4.5) (860,-6.5) (902,-13.5) (923,1.5) (944,20.5) (965,21.5) (986,20.5) (1017,15.5) (1049,20.5) (1070,13.5) (1091,16.5) (1112,30.5) (1122,31.5) (1143,20.5) (1164,16.5) (1196,15.5) (1217,10.5) (1233,-3.5) (1248,-11.5) (1269,-11.5) (1300,-9.5)};
\addplot[white!85!yellow, line width=1pt, smooth, yshift=1.6pt] coordinates {(0,-18.5) (21,-12.5) (33,-14.5) (62,-14.5) (83,-16.5) (100,-19.5) (124,-28.5) (145,-26.5) (166,-23.5) (187,-14.5) (207,-3.5) (232,-0.5) (257,-3.5) (290,-6.5) (315,0.5) (340,6.5) (365,16.5) (390,16.5) (406,25.5) (423,30.5) (448,27.5) (477,30.5) (498,30.5) (522,28.5) (551,23.5) (572,10.5) (601,10.5) (622,-6.5) (650,-4.5) (666,-4.5) (681,-16.5) (692,-21.5) (729,-18.5) (755,-16.5) (786,-8.5) (818,-6.5) (839,-4.5) (860,-6.5) (902,-13.5) (923,1.5) (944,20.5) (965,21.5) (986,20.5) (1017,15.5) (1049,20.5) (1070,13.5) (1091,16.5) (1112,30.5) (1122,31.5) (1143,20.5) (1164,16.5) (1196,15.5) (1217,10.5) (1233,-3.5) (1248,-11.5) (1269,-11.5) (1300,-9.5)};
\addplot[red!60!black, line width=0.8pt, smooth, yshift=-1.2pt] coordinates {(0,-18.5) (21,-12.5) (33,-14.5) (62,-14.5) (83,-16.5) (100,-19.5) (124,-28.5) (145,-26.5) (166,-23.5) (187,-14.5) (207,-3.5) (232,-0.5) (257,-3.5) (290,-6.5) (315,0.5) (340,6.5) (365,16.5) (390,16.5) (406,25.5) (423,30.5) (448,27.5) (477,30.5) (498,30.5) (522,28.5) (551,23.5) (572,10.5) (601,10.5) (622,-6.5) (650,-4.5) (666,-4.5) (681,-16.5) (692,-21.5) (729,-18.5) (755,-16.5) (786,-8.5) (818,-6.5) (839,-4.5) (860,-6.5) (902,-13.5) (923,1.5) (944,20.5) (965,21.5) (986,20.5) (1017,15.5) (1049,20.5) (1070,13.5) (1091,16.5) (1112,30.5) (1122,31.5) (1143,20.5) (1164,16.5) (1196,15.5) (1217,10.5) (1233,-3.5) (1248,-11.5) (1269,-11.5) (1300,-9.5)};
\end{axis}

% ================= foreground overlay =================
\begin{axis}[at={(0,0)}, anchor=south west, scale only axis, width=1473pt, height=894pt,
  xmin=0, xmax=1473, ymin=0, ymax=894, y dir=reverse, hide axis, clip=false]
\addplot[white!55!black, line width=2pt] coordinates {(0,1.5) (1473,1.5)};
\addplot[white, line width=1pt] coordinates {(0,4.8) (1473,4.8)};
\addplot[white, line width=1pt] coordinates {(0,447.7) (1473,447.7)};
\addplot[white, line width=1pt] coordinates {(0,449.9) (1473,449.9)};
\addplot[white, line width=1pt] coordinates {(0,618.6) (1473,618.6)};
\addplot[white, line width=1pt] coordinates {(0,620.9) (1473,620.9)};
\addplot[white, line width=1pt] coordinates {(0,783.2) (1473,783.2)};
\addplot[white, line width=1pt] coordinates {(0,785.6) (1473,785.6)};
\addplot[cyanA, line width=3.4pt, -{Triangle[length=14pt,width=10pt]}] coordinates {(130,380) (123,543)};
\addplot[cyanA, line width=3.4pt, -{Triangle[length=14pt,width=10pt]}] coordinates {(459,112) (464,438)};
\addplot[cyanA, line width=3.4pt, -{Triangle[length=14pt,width=10pt]}] coordinates {(677,330) (680,525)};
\addplot[cyanA, line width=3.4pt, -{Triangle[length=14pt,width=10pt]}] coordinates {(1107,147) (1111,425)};
\addplot[cyanA, line width=3.4pt, -{Triangle[length=14pt,width=10pt]}] coordinates {(1237,545) (1233,337)};
\addplot[cyanA, line width=3.4pt, -{Triangle[length=14pt,width=10pt]}] coordinates {(31,610) (100,599)};
\addplot[cyanA, line width=3.4pt, -{Triangle[length=14pt,width=10pt]}] coordinates {(361,611) (464,644)};
\addplot[cyanA, line width=3.4pt, -{Triangle[length=14pt,width=10pt]}] coordinates {(975,605) (1125,629)};
\addplot[cyanA, line width=3.4pt, -{Triangle[length=14pt,width=10pt]}] coordinates {(1185,597) (1227,578)};
\addplot[cyanA, line width=3.4pt, -{Triangle[length=14pt,width=10pt]}] coordinates {(622,780) (700,760)};
\end{axis}
\end{tikzpicture}
\end{document}
